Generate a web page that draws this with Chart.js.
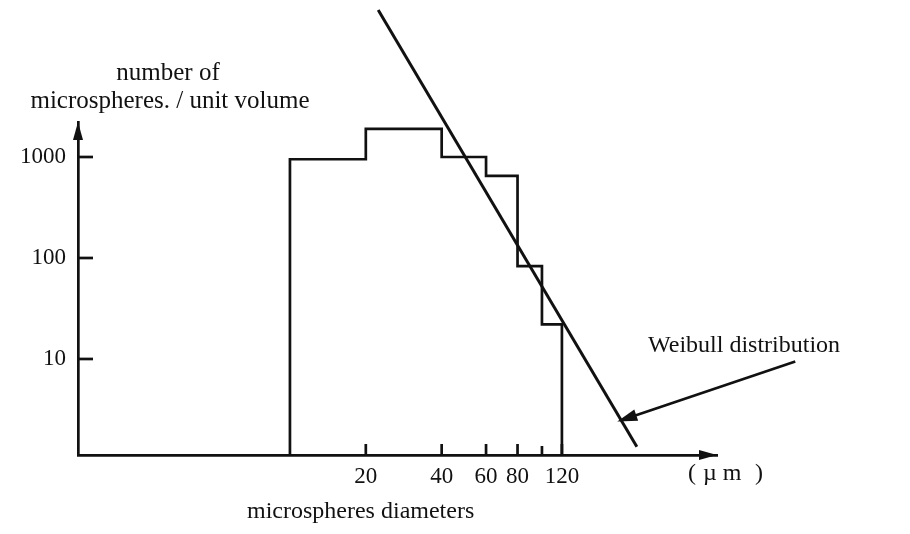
<!DOCTYPE html>
<html>
<head>
<meta charset="utf-8">
<script src="https://cdn.jsdelivr.net/npm/chart.js@4/dist/chart.umd.min.js"></script>
<style>
  html, body { margin: 0; background: #fff; }
</style>
</head>
<body>
<canvas id="chart" width="910" height="534"></canvas>
<script>
// histogram: bin edges (µm) and counts per unit volume
const binEdges = [10, 20, 40, 60, 80, 100, 120];
const binCounts = [950, 1900, 1000, 650, 83, 22];

// fitted Weibull distribution (two end points, log-log straight line)
const weibullX = [22.4, 238];
const weibullY = [28500, 1.35];

const xTicks = [20, 40, 60, 80, 100, 120];
const xTickLabels = ['20', '40', '60', '80', '', '120'];
const yTicks = [10, 100, 1000];
const yTickLabels = ['10', '100', '1000'];

const yMin = 1.12, yMax = 2221;
const xMin = 1.442, xMax = 495;

const FONT = '"Liberation Serif", "DejaVu Serif", serif';
const INK = '#111';

// outline of the histogram, drawn as a stepped line
const histPoints = [{ x: binEdges[0], y: yMin }];
binCounts.forEach((c, i) => histPoints.push({ x: binEdges[i], y: c }));
histPoints.push({ x: binEdges[binEdges.length - 1], y: yMin });

const weibullPoints = weibullX.map((x, i) => ({ x: x, y: weibullY[i] }));

// axis arrows, inward tick marks, labels and the annotation arrow
const decorations = {
  id: 'decorations',
  afterDraw(chart) {
    const ctx = chart.ctx;
    const xs = chart.scales.x, ys = chart.scales.y;
    const a = chart.chartArea;
    ctx.save();
    ctx.strokeStyle = INK;
    ctx.fillStyle = INK;
    ctx.lineWidth = 2.7;

    // inward ticks
    yTicks.forEach(v => {
      const py = ys.getPixelForValue(v);
      ctx.beginPath(); ctx.moveTo(a.left, py); ctx.lineTo(a.left + 15, py); ctx.stroke();
    });
    xTicks.forEach((v, i) => {
      const px = xs.getPixelForValue(v);
      const len = xTickLabels[i] === '' ? 9 : 11;
      ctx.beginPath(); ctx.moveTo(px, a.bottom); ctx.lineTo(px, a.bottom - len); ctx.stroke();
    });

    // axis arrowheads
    ctx.beginPath();
    ctx.moveTo(a.left, a.top); ctx.lineTo(a.left - 5, a.top + 18); ctx.lineTo(a.left + 5, a.top + 18);
    ctx.closePath(); ctx.fill();
    ctx.beginPath();
    ctx.moveTo(a.right, a.bottom); ctx.lineTo(a.right - 18, a.bottom - 5); ctx.lineTo(a.right - 18, a.bottom + 5);
    ctx.closePath(); ctx.fill();

    // annotation arrow pointing at the Weibull line
    const tx = xs.getPixelForValue(199), ty = ys.getPixelForValue(2.4);
    const sx = tx + 178, sy = ty - 60;
    const ang = Math.atan2(ty - sy, tx - sx);
    ctx.beginPath(); ctx.moveTo(sx, sy); ctx.lineTo(tx - 12 * Math.cos(ang), ty - 12 * Math.sin(ang)); ctx.stroke();
    ctx.beginPath();
    ctx.moveTo(tx, ty);
    ctx.lineTo(tx - 20 * Math.cos(ang) + 6 * Math.sin(ang), ty - 20 * Math.sin(ang) - 6 * Math.cos(ang));
    ctx.lineTo(tx - 20 * Math.cos(ang) - 6 * Math.sin(ang), ty - 20 * Math.sin(ang) + 6 * Math.cos(ang));
    ctx.closePath(); ctx.fill();

    // texts
    ctx.textBaseline = 'middle';
    ctx.textAlign = 'center';
    ctx.font = '25px ' + FONT;
    ctx.fillText('number of', 168, 73);
    ctx.fillText('microspheres. / unit volume', 170, 101);
    ctx.textAlign = 'left';
    ctx.font = '24px ' + FONT;
    ctx.fillText('microspheres diameters', 247, 512);
    ctx.fillText('(', 688, 474);
    ctx.fillText('\u00b5 m', 703, 474);
    ctx.fillText(')', 755, 474);
    ctx.fillText('Weibull distribution', 648, 346);
    ctx.restore();
  }
};

new Chart(document.getElementById('chart'), {
  type: 'line',
  data: {
    datasets: [
      {
        data: histPoints,
        stepped: 'before',
        borderColor: INK,
        borderWidth: 2.7,
        borderJoinStyle: 'miter',
        pointRadius: 0,
        fill: false
      },
      {
        data: weibullPoints,
        borderColor: INK,
        borderWidth: 3,
        pointRadius: 0,
        fill: false,
        clip: false
      }
    ]
  },
  options: {
    responsive: false,
    animation: false,
    layout: { padding: { left: 0, top: 122, right: 193, bottom: 0 } },
    plugins: { legend: { display: false }, tooltip: { enabled: false } },
    scales: {
      x: {
        type: 'logarithmic',
        min: xMin,
        max: xMax,
        grid: { display: false, drawTicks: false },
        border: { display: true, color: INK, width: 2.7 },
        afterBuildTicks: s => { s.ticks = xTicks.map(v => ({ value: v })); },
        afterFit: s => { s.height = 79; },
        ticks: {
          autoSkip: false,
          maxRotation: 0,
          padding: 8,
          color: INK,
          font: { family: FONT, size: 23 },
          callback: (v, i) => xTickLabels[i]
        }
      },
      y: {
        type: 'logarithmic',
        min: yMin,
        max: yMax,
        grid: { display: false, drawTicks: false },
        border: { display: true, color: INK, width: 2.7 },
        afterBuildTicks: s => { s.ticks = yTicks.map(v => ({ value: v })); },
        afterFit: s => { s.width = 78; },
        ticks: {
          padding: 12,
          color: INK,
          font: { family: FONT, size: 23 },
          callback: (v, i) => yTickLabels[i]
        }
      }
    }
  },
  plugins: [decorations]
});
</script>
</body>
</html>
